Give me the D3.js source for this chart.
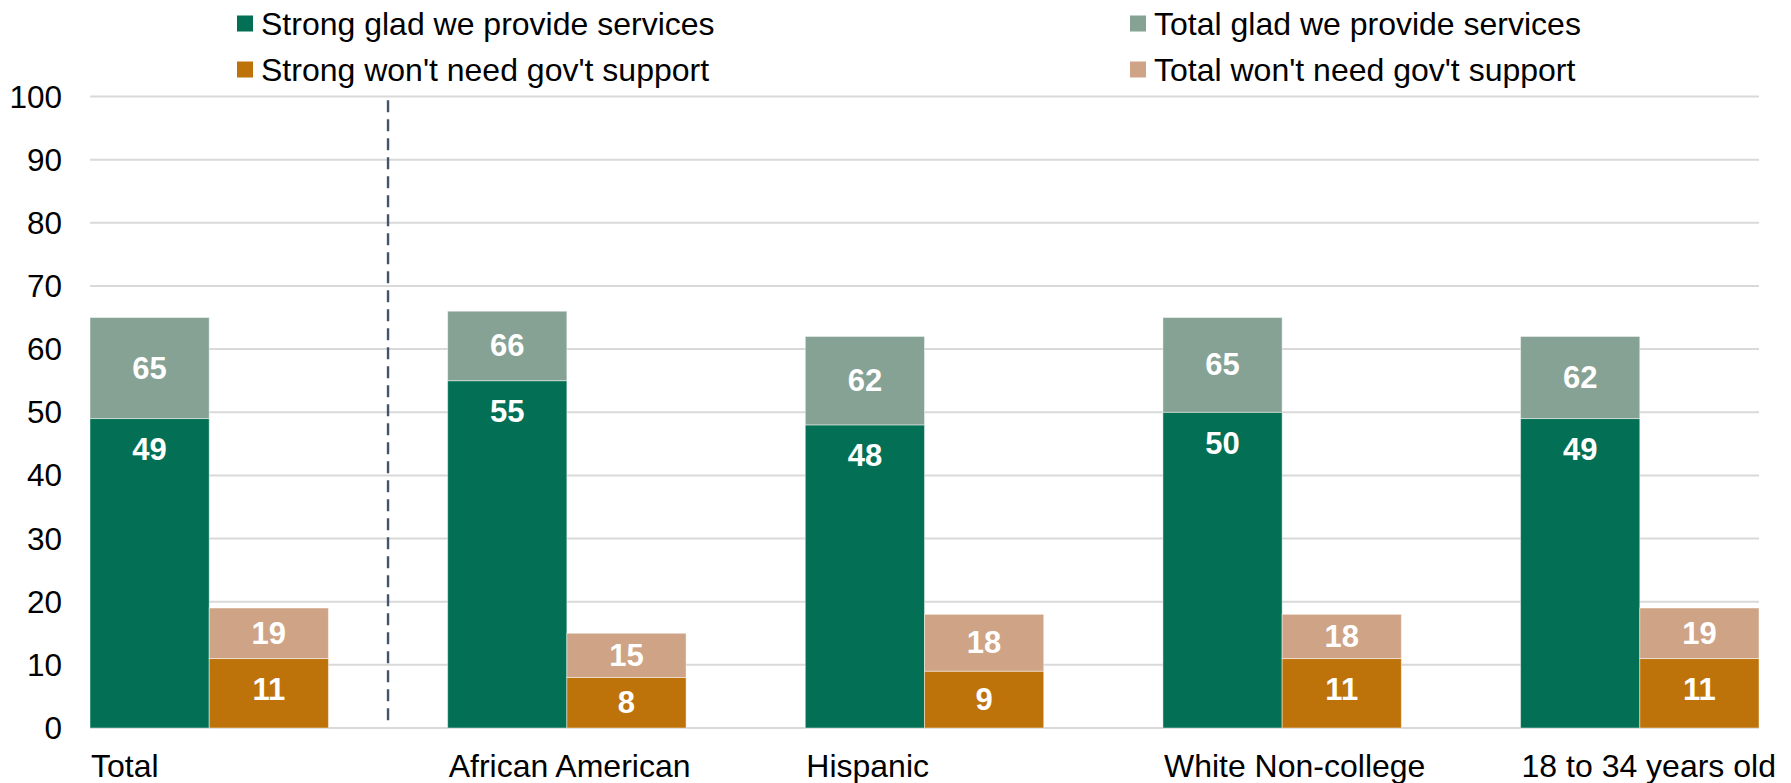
<!DOCTYPE html>
<html lang="en">
<head>
<meta charset="UTF-8">
<title>Glad we provide services / won't need gov't support</title>
<script src="https://d3js.org/d3.v7.min.js"></script>
<style>
  body { margin: 0; background: #fff; }
  svg { display: block; font-family: "Liberation Sans", Arial, sans-serif; }
  .grid line { stroke: #d9d9d9; stroke-width: 2; }
  .tick-label { font-size: 31.5px; fill: #000; }
  .cat-label { font-size: 32px; fill: #000; }
  .legend text { font-size: 32px; fill: #000; }
  .val { font-size: 31px; font-weight: bold; fill: #fff; text-anchor: middle; }
</style>
</head>
<body>
<div id="chart"></div>
<script>
// data
const categories = ["Total", "African American", "Hispanic", "White Non-college", "18 to 34 years old"];
const strongGlad = [49, 55, 48, 50, 49];
const totalGlad  = [65, 66, 62, 65, 62];
const strongWont = [11, 8, 9, 11, 11];
const totalWont  = [19, 15, 18, 18, 19];
const yTicks = [0, 10, 20, 30, 40, 50, 60, 70, 80, 90, 100];

const legendItems = [
  {name: "Strong glad we provide services", color: "#037055"},
  {name: "Strong won't need gov't support", color: "#be730a"},
  {name: "Total glad we provide services", color: "#86a295"},
  {name: "Total won't need gov't support", color: "#cfa385"}
];

const W = 1791, H = 783;
const margin = {left: 90, right: 1759, top: 96.5, bottom: 728};

const svg = d3.select("#chart").append("svg")
  .attr("width", W).attr("height", H);

const x0 = d3.scaleBand().domain(categories).range([margin.left, margin.right])
  .paddingInner(1 / 3).paddingOuter(0);
const x1 = d3.scaleBand().domain(["glad", "wont"]).range([0, x0.bandwidth()]).padding(0);
const y = d3.scaleLinear().domain([0, 100]).range([margin.bottom, margin.top]);

// gridlines
svg.append("g").attr("class", "grid")
  .selectAll("line").data(yTicks).join("line")
  .attr("x1", margin.left).attr("x2", margin.right)
  .attr("y1", d => y(d)).attr("y2", d => y(d));

// y tick labels
svg.append("g").selectAll("text").data(yTicks).join("text")
  .attr("class", "tick-label")
  .attr("x", 62).attr("y", d => y(d))
  .attr("text-anchor", "end")
  .attr("dominant-baseline", "central")
  .text(d => d);

// divider after "Total"
const divX = (x0(categories[0]) + x0.bandwidth() + x0(categories[1])) / 2;
svg.append("line")
  .attr("x1", divX).attr("x2", divX)
  .attr("y1", y(99.4)).attr("y2", y(0.7))
  .attr("stroke", "#44546a").attr("stroke-width", 2.4)
  .attr("stroke-dasharray", "12,7");

// build stacked segments
const segs = [];
categories.forEach((c, i) => {
  segs.push({c, sub: "glad", y0: 0, y1: strongGlad[i], color: legendItems[0].color, label: strongGlad[i], pos: "end"});
  segs.push({c, sub: "glad", y0: strongGlad[i], y1: totalGlad[i], color: legendItems[2].color, label: totalGlad[i], pos: "mid"});
  segs.push({c, sub: "wont", y0: 0, y1: strongWont[i], color: legendItems[1].color, label: strongWont[i], pos: "end"});
  segs.push({c, sub: "wont", y0: strongWont[i], y1: totalWont[i], color: legendItems[3].color, label: totalWont[i], pos: "mid"});
});

svg.append("g").selectAll("rect").data(segs).join("rect")
  .attr("x", d => x0(d.c) + x1(d.sub))
  .attr("width", x1.bandwidth())
  .attr("y", d => y(d.y1))
  .attr("height", d => y(d.y0) - y(d.y1))
  .attr("fill", d => d.color)
  .attr("stroke", "#fff").attr("stroke-opacity", 0.45).attr("stroke-width", 1);

svg.append("g").selectAll("text").data(segs).join("text")
  .attr("class", "val")
  .attr("x", d => x0(d.c) + x1(d.sub) + x1.bandwidth() / 2)
  .attr("y", d => {
    const mid = (y(d.y0) + y(d.y1)) / 2;
    return d.pos === "end" ? Math.min(y(d.y1) + 31, mid) : mid;
  })
  .attr("dominant-baseline", "central")
  .text(d => d.label);

// category labels
svg.append("g").selectAll("text").data(categories).join("text")
  .attr("class", "cat-label")
  .attr("x", d => x0(d) + 1).attr("y", 777)
  .text(d => d);

// legend
const legPos = [
  {x: 237, y: 23.5}, {x: 237, y: 69.5}, {x: 1130, y: 23.5}, {x: 1130, y: 69.5}
];
const leg = svg.append("g").attr("class", "legend")
  .selectAll("g").data(legendItems).join("g")
  .attr("transform", (d, i) => `translate(${legPos[i].x},${legPos[i].y})`);
leg.append("rect").attr("x", 0).attr("y", -8).attr("width", 16).attr("height", 16)
  .attr("fill", d => d.color);
leg.append("text").attr("x", 24).attr("y", 0)
  .attr("dominant-baseline", "central")
  .text(d => d.name);
</script>
</body>
</html>
